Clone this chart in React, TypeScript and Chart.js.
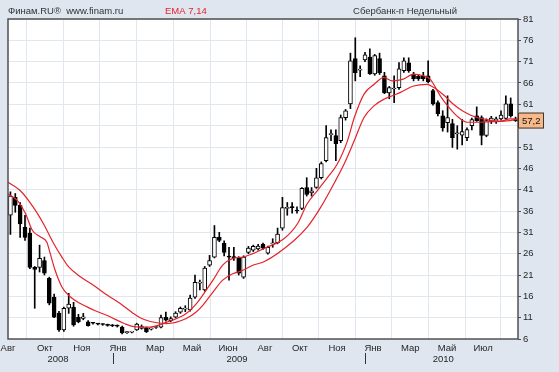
import { useEffect, useRef } from 'react';
import { Chart, registerables } from 'chart.js';

Chart.register(...registerables);

// ---------------- data ----------------
const headerLeft = 'Финам.RU®  www.finam.ru';
const indicatorLabel = 'EMA 7,14';
const instrumentLabel = 'Сбербанк-п Недельный';

// weekly candles, Aug 2008 – Aug 2010
const opens = [
  35.0, 39.2, 37.3, 32.2, 30.8, 22.8, 22.8, 24.4, 20.2, 15.8, 12.1, 8.1, 13.2, 13.5, 11.1, 10.8, 10.0, 9.8, 9.6, 9.5,
  9.3, 9.2, 9.1, 8.8, 7.5, 7.6, 8.1, 8.5, 8.6, 8.3, 8.7, 8.8, 11.1, 10.3, 11.1, 12.3, 13.0, 12.8, 15.8, 19.1,
  17.5, 23.3, 25.2, 29.8, 28.4, 25.4, 25.3, 24.9, 20.5, 26.3, 26.8, 27.1, 28.2, 26.1, 28.3, 28.6, 32.0, 36.6, 37.0, 36.2,
  36.6, 41.5, 40.3, 41.5, 43.8, 47.8, 53.9, 53.7, 52.5, 57.9, 61.1, 71.7, 69.0, 71.4, 72.1, 68.1, 71.7, 67.7, 63.7, 64.6,
  64.9, 68.9, 70.7, 68.1, 67.6, 67.6, 67.7, 64.2, 61.4, 58.3, 56.7, 56.5, 54.1, 53.8, 53.2, 56.0, 58.3, 57.9, 53.7, 57.0,
  57.0, 57.6, 57.7, 61.1, 57.6,
];
const highs = [
  40.5, 40.1, 38.0, 35.0, 32.0, 23.0, 28.0, 25.2, 20.5, 16.5, 12.5, 13.5, 16.7, 14.6, 11.8, 12.0, 10.3, 9.9, 9.7, 9.6,
  9.5, 9.4, 9.3, 9.0, 7.8, 7.8, 9.7, 9.3, 8.8, 8.6, 9.0, 11.6, 12.3, 11.2, 12.4, 13.5, 13.8, 16.3, 21.0, 19.8,
  23.0, 25.6, 32.6, 31.0, 29.0, 27.5, 27.5, 25.3, 25.5, 27.7, 28.0, 28.2, 28.5, 27.8, 29.5, 32.0, 39.2, 38.0, 38.0, 37.0,
  41.5, 43.8, 41.5, 46.0, 47.5, 56.0, 55.0, 55.0, 58.5, 59.8, 73.0, 76.6, 70.0, 73.2, 74.0, 72.7, 73.0, 68.5, 65.2, 67.7,
  70.8, 71.9, 71.9, 68.5, 68.0, 68.5, 71.2, 64.5, 61.8, 59.5, 63.0, 57.5, 56.0, 57.5, 55.5, 57.8, 60.4, 58.3, 57.6, 58.2,
  58.0, 59.5, 63.0, 62.5, 58.0,
];
const lows = [
  30.5, 35.7, 29.8, 29.1, 22.5, 13.2, 21.7, 21.0, 14.0, 11.0, 7.8, 7.8, 12.0, 9.0, 9.8, 10.5, 9.0, 9.5, 9.3, 9.2,
  9.0, 8.9, 8.8, 7.2, 7.3, 7.4, 8.0, 8.3, 7.5, 8.1, 8.5, 8.6, 10.2, 10.0, 10.9, 12.0, 12.4, 12.5, 15.5, 17.5,
  17.2, 23.0, 25.0, 28.8, 25.5, 19.8, 24.4, 21.0, 20.2, 26.0, 26.5, 26.8, 27.0, 25.9, 27.5, 28.3, 31.5, 35.0, 35.5, 35.5,
  36.3, 39.5, 39.5, 41.3, 43.5, 47.5, 52.5, 47.8, 52.0, 57.3, 60.0, 66.5, 67.5, 71.0, 68.0, 67.8, 68.0, 63.5, 62.3, 61.4,
  64.5, 68.5, 68.5, 66.5, 66.6, 66.5, 66.0, 60.8, 58.3, 54.7, 54.5, 50.9, 50.5, 51.5, 52.5, 55.0, 57.0, 51.5, 53.4, 56.5,
  56.5, 57.3, 57.5, 58.0, 57.0,
];
const closes = [
  39.5, 37.3, 33.0, 29.8, 22.8, 22.3, 24.9, 21.4, 14.4, 11.1, 8.1, 13.2, 14.2, 9.3, 10.0, 11.2, 9.1, 9.7, 9.5, 9.4,
  9.2, 9.1, 9.0, 7.4, 7.6, 7.6, 9.5, 8.9, 7.7, 8.4, 8.8, 11.0, 10.4, 10.8, 12.1, 13.2, 13.0, 15.6, 19.3, 19.1,
  22.6, 24.4, 29.8, 29.1, 26.3, 25.2, 25.0, 21.4, 25.2, 27.3, 27.7, 27.8, 27.3, 27.5, 28.5, 30.6, 36.8, 36.8, 36.8, 36.0,
  41.3, 39.9, 40.7, 43.8, 47.1, 53.2, 53.9, 51.8, 57.9, 59.5, 71.2, 68.4, 69.0, 72.6, 68.1, 72.4, 68.4, 63.7, 64.9, 64.6,
  69.3, 71.2, 68.9, 67.0, 67.0, 67.0, 66.3, 61.1, 58.8, 55.5, 57.9, 53.2, 54.1, 54.6, 55.1, 57.4, 57.2, 53.7, 57.2, 57.8,
  57.6, 58.5, 61.1, 58.3, 57.2,
];

// EMA 7: week position / value
const emaFastWeeks = [
  -0.5, 1.4, 3.1, 4.5, 6.2, 7.5, 8.2, 9.2, 10.6, 12.3, 14.4, 17.1, 20.5, 23.3, 25.4, 28.8, 32.1, 36.2, 38.3, 39.6,
  41.7, 43.7, 45.8, 47.9, 49.9, 52.2, 56.3, 59.1, 61.1, 63.2, 65.3, 67.3, 69.4, 70.8, 72.8, 74.9, 76.9, 78.6, 80.9, 83.0,
  85.0, 86.4, 88.5, 89.9, 91.9, 94.0, 96.1, 98.1, 100.9, 102.9, 104.5,
];
const emaFastValues = [
  40.0, 38.5, 35.4, 31.5, 29.9, 28.7, 26.0, 22.1, 18.2, 15.9, 14.3, 12.8, 11.2, 9.7, 8.9, 8.8, 9.9, 12.0, 14.3, 16.3,
  19.8, 23.3, 24.9, 25.2, 26.0, 27.2, 29.5, 33.0, 37.7, 40.8, 43.9, 47.0, 52.5, 57.9, 63.4, 65.7, 67.3, 66.5, 66.9, 68.1,
  67.7, 66.9, 63.0, 60.8, 58.3, 56.8, 56.8, 56.9, 57.0, 57.6, 57.5,
];
// EMA 14
const emaSlowWeeks = [
  -0.5, 2.0, 4.7, 6.8, 8.9, 10.6, 12.0, 14.4, 17.1, 19.9, 22.6, 25.3, 26.7, 28.8, 32.1, 36.2, 38.3, 39.6, 41.7, 43.7,
  45.8, 47.9, 49.9, 52.2, 58.4, 61.1, 63.9, 66.6, 68.7, 70.8, 72.8, 74.9, 76.9, 78.6, 80.3, 83.0, 85.7, 87.1, 89.2, 91.2,
  93.3, 95.3, 98.1, 100.9, 102.9, 104.5,
];
const emaSlowValues = [
  42.75, 40.8, 36.9, 33.0, 28.4, 25.2, 22.9, 20.6, 18.6, 16.3, 14.3, 12.0, 11.0, 10.1, 9.6, 10.8, 12.4, 13.9, 17.0, 19.8,
  21.3, 22.1, 23.3, 24.1, 29.1, 32.2, 36.9, 42.4, 47.0, 52.5, 57.9, 60.7, 62.2, 63.0, 63.8, 65.3, 65.7, 65.0, 63.2, 61.0,
  59.3, 58.2, 57.4, 57.0, 57.2, 57.5,
];

// axis labels
const monthLabels = ['Авг', 'Окт', 'Ноя', 'Янв', 'Мар', 'Май', 'Июн', 'Авг', 'Окт', 'Ноя', 'Янв', 'Мар', 'Май', 'Июл'];
const monthTickWeeks = [-0.5, 7.1, 14.7, 22.15, 29.8, 37.4, 44.8, 52.4, 59.6, 67.25, 74.65, 82.3, 89.9, 97.3];
const yearLabels = ['2008', '2009', '2010'];
const yearLabelWeeks = [9.8, 46.65, 89.1];
const yearBoundaryWeeks = [21.1, 73.0];
const yTicks = [6, 11, 16, 21, 26, 31, 36, 41, 46, 51, 56, 61, 66, 71, 76, 81];

// ---------------- chart ----------------
const FONT = '"Liberation Sans", Arial, sans-serif';
const FS = 9.5;
const RED = '#e3242b';
const GRID = '#e1e7ee';
const TEXT = '#262626';

const chromePlugin = {
  id: 'chrome',
  beforeDraw(chart: any) {
    const { ctx, chartArea: a, width, height } = chart;
    ctx.save();
    ctx.fillStyle = '#dfe6ef';
    ctx.fillRect(0, 0, width, height);
    ctx.fillStyle = '#ffffff';
    ctx.fillRect(a.left, a.top, a.right - a.left, a.bottom - a.top);
    ctx.restore();
  },
  afterDraw(chart: any) {
    const { ctx, chartArea: a, scales } = chart;
    const xs = scales.x;
    const ys = scales.y;
    ctx.save();
    // frame
    ctx.strokeStyle = '#505050';
    ctx.lineWidth = 1.5;
    ctx.strokeRect(a.left, a.top, a.right - a.left, a.bottom - a.top);

    // header texts
    ctx.font = `${FS}px ${FONT}`;
    ctx.textBaseline = 'middle';
    ctx.textAlign = 'left';
    ctx.fillStyle = '#333333';
    ctx.fillText(headerLeft, 8, 11);
    ctx.fillStyle = RED;
    ctx.fillText(indicatorLabel, 165, 11);
    ctx.fillStyle = '#333333';
    ctx.textAlign = 'center';
    ctx.fillText(instrumentLabel, 405, 11);

    // year row
    ctx.fillStyle = TEXT;
    ctx.textAlign = 'center';
    yearLabels.forEach((lab, i) => {
      ctx.fillText(lab, xs.getPixelForValue(yearLabelWeeks[i]), a.bottom + 20);
    });
    ctx.strokeStyle = '#333333';
    ctx.lineWidth = 1;
    yearBoundaryWeeks.forEach((w) => {
      const px = Math.round(xs.getPixelForValue(w)) + 0.5;
      ctx.beginPath();
      ctx.moveTo(px, a.bottom + 14);
      ctx.lineTo(px, a.bottom + 25);
      ctx.stroke();
    });

    // last price box
    const last = closes[closes.length - 1];
    const py = ys.getPixelForValue(last);
    ctx.fillStyle = '#f7b989';
    ctx.strokeStyle = '#3a3a3a';
    ctx.lineWidth = 1;
    ctx.fillRect(a.right, py - 8, 26, 16);
    ctx.strokeRect(a.right + 0.5, py - 7.5, 25, 15);
    ctx.fillStyle = '#111111';
    ctx.textAlign = 'left';
    ctx.fillText(last.toFixed(1).replace('.', ','), a.right + 4, py + 0.5);
    ctx.restore();
  },
};

export default function App() {
  const ref = useRef<HTMLCanvasElement>(null);

  useEffect(() => {
    document.body.style.margin = '0';
    const idx = closes.map((_, i) => i);
    const wickData = idx.map((i) => ({ x: i, y: [lows[i], highs[i]] }));
    const bodyData = idx.map((i) => ({
      x: i,
      y: [Math.min(opens[i], closes[i]), Math.max(opens[i], closes[i])],
    }));
    const bodyColors = idx.map((i) => (closes[i] >= opens[i] ? '#ffffff' : '#000000'));

    const chart = new Chart(ref.current as HTMLCanvasElement, {
      type: 'bar',
      data: {
        datasets: [
          {
            type: 'line',
            label: 'EMA 7',
            data: emaFastWeeks.map((w, i) => ({ x: w, y: emaFastValues[i] })),
            borderColor: RED,
            borderWidth: 1.2,
            pointRadius: 0,
            cubicInterpolationMode: 'monotone',
            order: 0,
          } as any,
          {
            type: 'line',
            label: 'EMA 14',
            data: emaSlowWeeks.map((w, i) => ({ x: w, y: emaSlowValues[i] })),
            borderColor: RED,
            borderWidth: 1.2,
            pointRadius: 0,
            cubicInterpolationMode: 'monotone',
            order: 0,
          } as any,
          {
            type: 'bar',
            label: 'body',
            data: bodyData as any,
            backgroundColor: bodyColors,
            borderColor: '#000000',
            borderWidth: 1,
            borderSkipped: false,
            barThickness: 4,
            minBarLength: 1,
            grouped: false,
            order: 1,
          } as any,
          {
            type: 'bar',
            label: 'wick',
            data: wickData as any,
            backgroundColor: '#000000',
            borderWidth: 0,
            barThickness: 1,
            grouped: false,
            order: 2,
          } as any,
        ],
      },
      options: {
        responsive: false,
        animation: false,
        devicePixelRatio: 1,
        layout: { padding: { left: 8, top: 19, right: 0, bottom: 0 } },
        plugins: {
          legend: { display: false },
          tooltip: { enabled: false },
        },
        scales: {
          x: {
            type: 'linear',
            min: -0.5,
            max: 104.5,
            offset: false,
            afterBuildTicks: (axis: any) => {
              axis.ticks = monthTickWeeks.map((v) => ({ value: v }));
            },
            afterFit: (axis: any) => {
              axis.height = 33;
              axis.paddingLeft = 0;
              axis.paddingRight = 0;
            },
            grid: {
              color: (c: any) => (c.index === 0 ? 'rgba(0,0,0,0)' : GRID),
              drawTicks: false,
              lineWidth: 1,
            },
            border: { display: false },
            ticks: {
              autoSkip: false,
              maxRotation: 0,
              padding: 4,
              color: TEXT,
              font: { size: FS, family: FONT },
              callback: (_v: any, i: number) => monthLabels[i],
            },
          } as any,
          y: {
            type: 'linear',
            position: 'right',
            min: 6,
            max: 81,
            afterBuildTicks: (axis: any) => {
              axis.ticks = yTicks.map((v) => ({ value: v }));
            },
            afterFit: (axis: any) => {
              axis.width = 41;
            },
            grid: {
              color: GRID,
              tickColor: '#505050',
              tickLength: 3,
              drawTicks: true,
            },
            border: { display: false },
            ticks: {
              padding: 2,
              color: TEXT,
              font: { size: FS, family: FONT },
              callback: (v: any) => String(v),
            },
          } as any,
        },
      } as any,
      plugins: [chromePlugin],
    });
    return () => chart.destroy();
  }, []);

  return (
    <div style={{ width: 559, height: 372 }}>
      <canvas ref={ref} width={559} height={372} style={{ display: 'block' }} />
    </div>
  );
}
